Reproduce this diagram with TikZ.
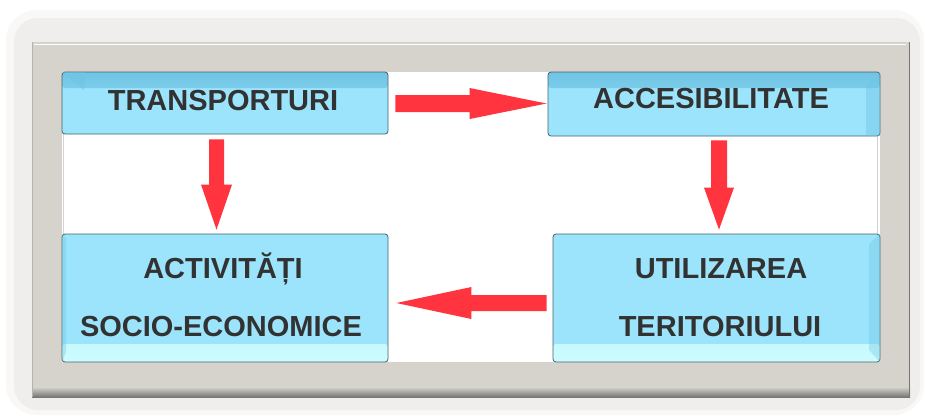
\documentclass[tikz,border=0pt]{standalone}
\usepackage{fontspec}
\setmainfont{Liberation Sans}
\usetikzlibrary{calc}
\definecolor{boxmain}{RGB}{155,228,252}
\definecolor{boxdark}{RGB}{112,196,228}
\definecolor{boxlight}{RGB}{205,252,254}
\definecolor{boxborder}{RGB}{75,98,108}
\definecolor{framec}{RGB}{214,211,205}
\definecolor{framedark}{RGB}{118,118,116}
\definecolor{shadowa}{RGB}{249,248,247}
\definecolor{shadowb}{RGB}{240,238,236}
\definecolor{arrowred}{RGB}{255,52,62}
\definecolor{txt}{RGB}{50,50,50}
\newcommand\blockarr[5]{%
  \coordinate (bh) at ($(#2)!#5!(#1)$);
  \fill[arrowred] ($(#1)!#3!90:(#2)$) -- ($(bh)!#3!90:(#2)$) -- ($(bh)!#4!90:(#2)$)
    -- (#2) -- ($(bh)!#4!-90:(#2)$) -- ($(bh)!#3!-90:(#2)$) -- ($(#1)!#3!-90:(#2)$) -- cycle;}
\tikzset{
  box/.style={rectangle, rounded corners=3pt, draw=boxborder, line width=0.8pt,
    fill=boxmain, inner sep=0pt},
  topbox/.style={box, path picture={
    \shade[top color=boxdark, bottom color=boxmain]
      (path picture bounding box.north west) rectangle ($(path picture bounding box.north east)+(0,16)$);}},
  botbox/.style={box, path picture={
    \shade[top color=boxmain, bottom color=boxlight]
      ($(path picture bounding box.south west)+(0,-18)$) rectangle (path picture bounding box.south east);}},
  lbl/.style={font=\fontsize{29}{34}\bfseries\selectfont, text=txt, inner sep=0pt, anchor=base}
}
\begin{document}
\begin{tikzpicture}[x=1pt,y=-1pt]
\useasboundingbox (0,0) rectangle (925,416);
% soft outer shadow
\fill[shadowa, rounded corners=30pt] (6,10) rectangle (924,415);
\fill[shadowb, rounded corners=24pt] (14,18) rectangle (920,410);
% frame
\fill[framec] (32,42) rectangle (910,397);
\shade[top color=framec, bottom color=framedark] (32,387) rectangle (910,397);
\draw[white, line width=1.4pt] (34,44.5) -- (906,44.5);
\draw[framedark, line width=1pt] (909.5,42) -- (909.5,397);
\draw[framec!85!black, line width=0.6pt] (32.3,42) -- (32.3,397);
% inner white area
\fill[white] (62,72) rectangle (880,362);
\draw[gray!35, line width=0.8pt] (877.5,136) -- (877.5,234);
\draw[gray!35, line width=0.8pt] (63.5,134) -- (63.5,234);
% boxes
\node[topbox, minimum width=326pt, minimum height=62pt] (T) at (225,103) {};
\node[topbox, minimum width=332pt, minimum height=64pt] (A) at (714,104) {};
\node[botbox, minimum width=326pt, minimum height=128pt] (Act) at (225,298) {};
\node[botbox, minimum width=327pt, minimum height=128pt] (U) at (716.5,298) {};
% bevel hints
\fill[boxdark, opacity=0.55] (62.4,72.4) -- (84,90) -- (84,88) -- (86,72.4) -- cycle;
\fill[boxdark, opacity=0.45] (879.6,72.4) -- (866,86) -- (866,135.6) -- (879.6,135.6) -- cycle;
\fill[boxdark, opacity=0.35] (879.6,234.4) -- (869,244) -- (869,350) -- (879.6,361.6) -- cycle;
\fill[boxdark, opacity=0.35] (62.4,234.4) -- (66,238) -- (66,352) -- (62.4,361.6) -- cycle;
% labels
\node[lbl] (tT) at (223,110) {TRANSPORTURI};
\node[lbl] (tA) at (711,108) {ACCESIBILITATE};
\node[lbl] (tAct1) at (223,278) {ACTIVITĂȚI};
\node[lbl] (tAct2) at (221,336) {SOCIO-ECONOMICE};
\node[lbl] (tU1) at (721,278) {UTILIZAREA};
\node[lbl] (tU2) at (720,336) {TERITORIULUI};
% arrow end points
\coordinate (r1s) at ($(T.east)+(7,0.5)$);
\coordinate (r1e) at ($(A.west)+(-1,-0.5)$);
\coordinate (d1s) at ($(T.south)+(-8.5,5)$);
\coordinate (d1e) at ($(Act.north)+(-8.5,-4)$);
\coordinate (d2s) at ($(A.south)+(5,4)$);
\coordinate (d2e) at ($(U.north)+(2.5,-4)$);
\coordinate (l1s) at ($(U.west)+(-6,5)$);
\coordinate (l1e) at ($(Act.east)+(8,5)$);
% arrows
\blockarr{r1s}{r1e}{8.5pt}{15.5pt}{77pt}
\blockarr{d1s}{d1e}{7.5pt}{15.5pt}{45pt}
\blockarr{d2s}{d2e}{8pt}{15pt}{42pt}
\blockarr{l1s}{l1e}{8pt}{16pt}{75pt}
\end{tikzpicture}
\end{document}
